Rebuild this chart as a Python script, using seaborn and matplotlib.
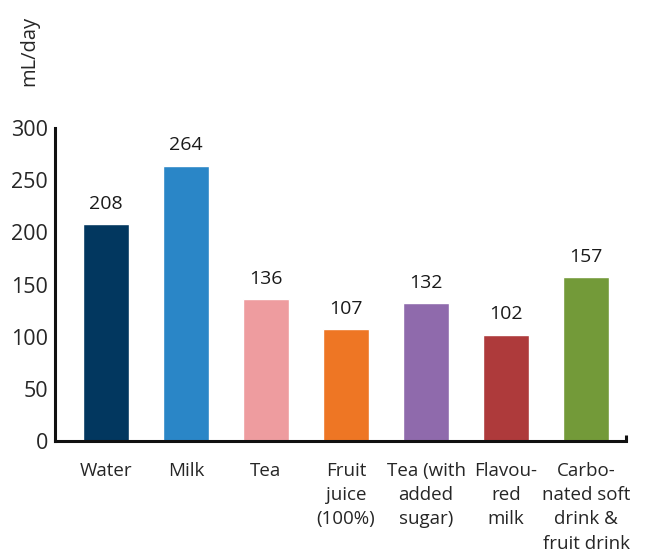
import matplotlib
matplotlib.use("Agg")
import matplotlib.pyplot as plt
import seaborn as sns
import pandas as pd

categories = ["Water", "Milk", "Tea", "Fruit\njuice\n(100%)", "Tea (with\nadded\nsugar)",
              "Flavou-\nred\nmilk", "Carbo-\nnated soft\ndrink &\nfruit drink"]
values = [208, 264, 136, 107, 132, 102, 157]
colors = ["#02375F", "#2A86C7", "#EE9C9F", "#EE7624", "#8F6AAC", "#AE3A3B", "#739A39"]
yticks = [0, 50, 100, 150, 200, 250, 300]

sns.set_style("white")
plt.rcParams["font.family"] = ["Open Sans", "DejaVu Sans"]

fig = plt.figure(figsize=(6.46, 5.56), dpi=100)
ax = fig.add_axes([0.0851, 0.2068, 0.884, 0.5630])

df = pd.DataFrame({"cat": categories, "val": values})
sns.barplot(data=df, x="cat", y="val", hue="cat", palette=colors, legend=False,
            width=0.575, saturation=1, ax=ax)

for i, v in enumerate(values):
    ax.text(i, v + 11, str(v), ha="center", va="bottom", fontsize=14, color="#1a1a1a")

ax.set_xlim(-0.6375, 6.5)
ax.set_ylim(0, 300)
ax.set_yticks(yticks)
ax.set_yticklabels([str(t) for t in yticks], fontsize=15.5)
ax.tick_params(axis="y", direction="in", length=11, width=2, color="#111111", pad=5)
ax.tick_params(axis="x", length=0, pad=15, labelsize=13.5)
for lbl in ax.get_xticklabels():
    lbl.set_va("top")
    lbl.set_linespacing(1.45)

ax.set_xlabel("")
ax.set_ylabel("")
sns.despine(ax=ax)
for side in ("left", "bottom"):
    ax.spines[side].set_linewidth(2.2)
    ax.spines[side].set_color("#111111")

# small end tick on the right of the x-axis
ax.plot([6.5, 6.5], [0, 6], color="#111111", lw=2.2, clip_on=False, solid_capstyle="butt")

fig.text(0.046, 0.908, "mL/day", rotation=90, ha="center", va="center", fontsize=14.5)

fig.savefig("out.png", dpi=100)
